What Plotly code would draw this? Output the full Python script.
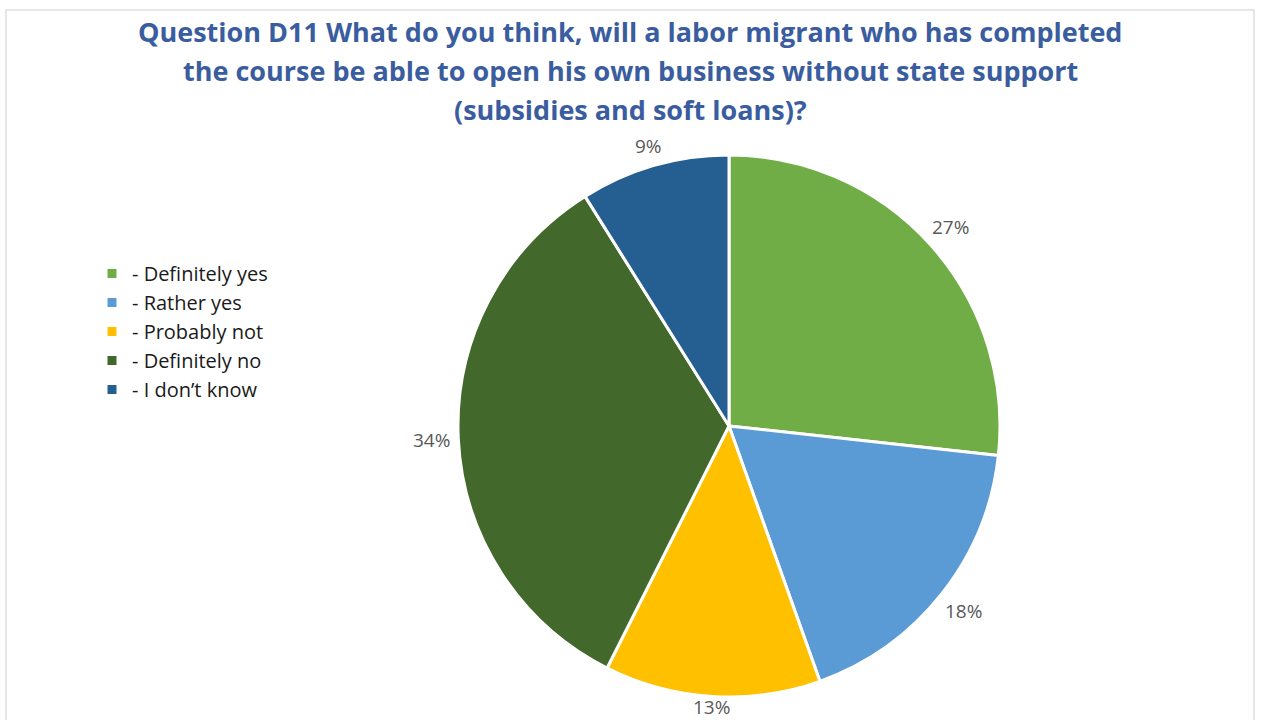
import math
import plotly.graph_objects as go

# Survey answers and their shares (%)
answers = ["- Definitely yes", "- Rather yes", "- Probably not", "- Definitely no", "- I don\u2019t know"]
shares = [27, 18, 13, 34, 9]
slice_colors = ["#70AD47", "#5B9BD5", "#FFC000", "#43682B", "#255E91"]

title_lines = [
    "Question D11 What do you think, will a labor migrant who has completed",
    "the course be able to open his own business without state support",
    "(subsidies and soft loans)?",
]

W, H = 1263, 720

# Pie placement (pixels): centre and radius
PIE_CX, PIE_CY, PIE_R = 729, 426, 271

fig = go.Figure(
    go.Pie(
        labels=answers,
        values=shares,
        sort=False,
        direction="clockwise",
        rotation=0,
        marker=dict(colors=slice_colors, line=dict(color="white", width=3)),
        textinfo="none",
        domain=dict(
            x=[(PIE_CX - PIE_R) / W, (PIE_CX + PIE_R) / W],
            y=[(H - PIE_CY - PIE_R) / H, (H - PIE_CY + PIE_R) / H],
        ),
        hoverinfo="label+percent",
    )
)

# Percentage labels just beyond the outer end of each slice
label_annotations = []
total = sum(shares)
cum = 0.0
for v in shares:
    mid = (cum + v / 2) / total * 2 * math.pi  # clockwise from 12 o'clock
    cum += v
    sx, sy = math.sin(mid), -math.cos(mid)
    dist = PIE_R + 6 + 20 * abs(sx) + 9 * abs(sy)
    px = PIE_CX + dist * sx
    py = min(PIE_CY + dist * sy, H - 13)  # keep the bottom label inside the page
    label_annotations.append(dict(
        text=f"{v}%",
        xref="paper", yref="paper",
        x=px / W, y=1 - py / H,
        xanchor="center", yanchor="middle",
        showarrow=False,
        font=dict(family="Open Sans, sans-serif", size=19, color="#595959"),
    ))

# Title as three centred lines with Excel-like line spacing
title_annotations = [
    dict(
        text=line,
        xref="paper", yref="paper",
        x=630 / W, y=1 - (32 + 38.5 * i) / H,
        xanchor="center", yanchor="middle",
        showarrow=False,
        font=dict(family="Open Sans, sans-serif", size=27, color="#3A5DA0", weight="bold"),
    )
    for i, line in enumerate(title_lines)
]

fig.update_layout(
    width=W,
    height=H,
    margin=dict(l=0, r=0, t=0, b=0),
    paper_bgcolor="white",
    legend=dict(
        x=92 / W,
        y=1 - 254 / H,
        xanchor="left",
        yanchor="top",
        font=dict(family="Open Sans, sans-serif", size=20, color="#1a1a1a"),
        itemwidth=30,
        tracegroupgap=0,
        bgcolor="rgba(0,0,0,0)",
    ),
    showlegend=True,
    annotations=title_annotations + label_annotations,
    shapes=[
        dict(type="rect", xref="paper", yref="paper",
             x0=6 / W, x1=1254 / W, y0=-0.05, y1=1 - 10 / H,
             line=dict(color="#E6E6E6", width=2), layer="below")
    ],
)

fig.write_html("out.html")
